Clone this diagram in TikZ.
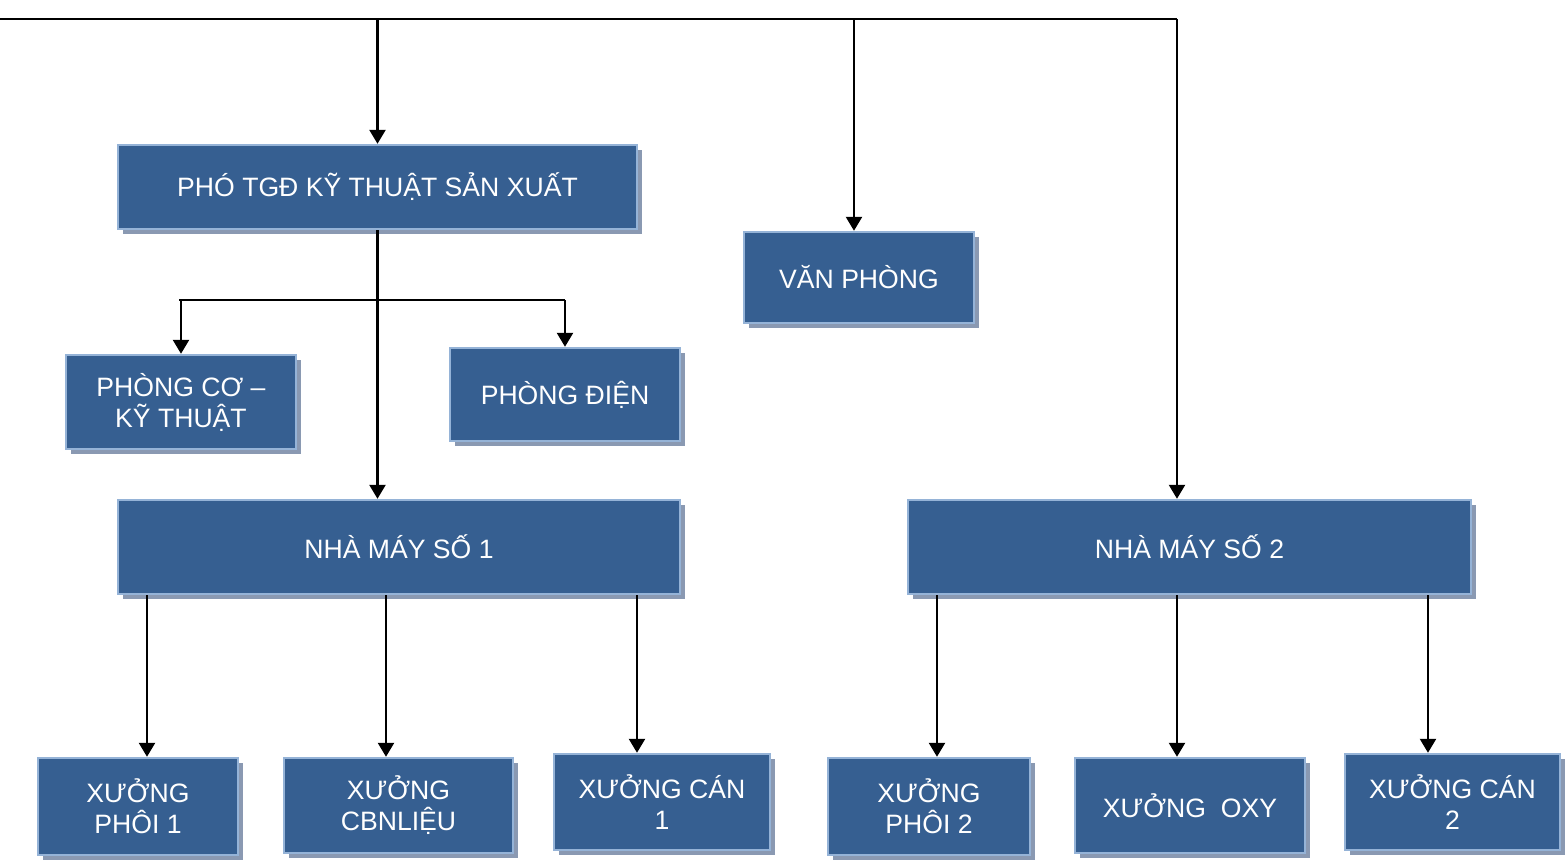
\documentclass[tikz,border=0pt]{standalone}
\usepackage{fontspec}
\setmainfont{Liberation Sans}
\usepackage{xcolor}
\usepackage{tikz}
\usetikzlibrary{arrows.meta, shadows, calc}

\definecolor{boxfill}{RGB}{54,95,145}
\definecolor{boxline}{RGB}{149,179,215}
\definecolor{boxshade}{RGB}{138,153,178}

\begin{document}
\begin{tikzpicture}[
    x=0.5pt, y=-0.5pt,
    box/.style={rectangle, draw=boxline, line width=1.2pt, fill=boxfill, text=white, inner sep=0pt, align=center,
        font=\fontsize{13.3}{15.5}\selectfont,
        drop shadow={shadow xshift=2.5pt, shadow yshift=-2.5pt, fill=boxshade, opacity=1}},
    arrow/.style={-{Triangle[length=7pt, width=8pt]}, line width=1.2pt, black},
    bar/.style={line width=1.2pt, black}
]
\useasboundingbox (0,0) rectangle (1565,865);

% upper level
\node[box, minimum width=259.5pt, minimum height=42pt] (pho) at (377.5,187) {PHÓ TGĐ KỸ THUẬT SẢN XUẤT};
\node[box, minimum width=115pt, minimum height=45.5pt] (van) at (859,277.5) {VĂN PHÒNG};
\node[box, minimum width=115pt, minimum height=47pt] (pco) at (181,402) {PHÒNG CƠ –\\KỸ THUẬT};
\node[box, minimum width=115pt, minimum height=46.5pt] (pdien) at (565,394.5) {PHÒNG ĐIỆN};

% factories
\node[box, minimum width=281pt, minimum height=47pt] (nm1) at (399,547) {NHÀ MÁY SỐ 1};
\node[box, minimum width=281.5pt, minimum height=47pt] (nm2) at (1189.5,547) {NHÀ MÁY SỐ 2};

% workshops
\node[box, minimum width=100pt, minimum height=48.5pt] (px1) at (138,806.5) {XƯỞNG\\PHÔI 1};
\node[box, minimum width=114.5pt, minimum height=47.5pt] (cbn) at (398.5,805.5) {XƯỞNG\\CBNLIỆU};
\node[box, minimum width=108pt, minimum height=48pt] (can1) at (662,802) {XƯỞNG CÁN\\1};
\node[box, minimum width=101pt, minimum height=48.5pt] (px2) at (929,806.5) {XƯỞNG\\PHÔI 2};
\node[box, minimum width=115pt, minimum height=47.5pt] (oxy) at (1190,805.5) {XƯỞNG\ \ OXY};
\node[box, minimum width=107.5pt, minimum height=48pt] (can2) at (1452.5,802) {XƯỞNG CÁN\\2};

% top bus
\coordinate (bus) at (0,19);
\coordinate (busend) at ([xshift=-6.25pt]nm2.north |- bus);
\draw[bar] (bus) -- (busend);
\draw[arrow] (bus -| pho.north) -- (pho.north);
\draw[arrow] ([xshift=-2.5pt]van.north |- bus) -- ([xshift=-2.5pt]van.north);
\draw[arrow] (busend) -- ([xshift=-6.25pt]nm2.north);

% under the deputy
\coordinate (branch) at (pho.south |- 0,300);
\draw[arrow] (pho.south) -- (pho.south |- nm1.north);
\draw[bar] ([xshift=-1pt]branch -| pco.north) -- (branch -| pdien.north);
\draw[arrow] (branch -| pco.north) -- (pco.north);
\draw[arrow] (branch -| pdien.north) -- (pdien.north);

% factory 1
\draw[arrow] ([xshift=4.5pt]px1.north |- nm1.south) -- ([xshift=4.5pt]px1.north);
\draw[arrow] ([xshift=-6.25pt]cbn.north |- nm1.south) -- ([xshift=-6.25pt]cbn.north);
\draw[arrow] ([xshift=-12.5pt]can1.north |- nm1.south) -- ([xshift=-12.5pt]can1.north);

% factory 2
\draw[arrow] ([xshift=4pt]px2.north |- nm2.south) -- ([xshift=4pt]px2.north);
\draw[arrow] ([xshift=-6.5pt]oxy.north |- nm2.south) -- ([xshift=-6.5pt]oxy.north);
\draw[arrow] ([xshift=-12.25pt]can2.north |- nm2.south) -- ([xshift=-12.25pt]can2.north);
\end{tikzpicture}
\end{document}
